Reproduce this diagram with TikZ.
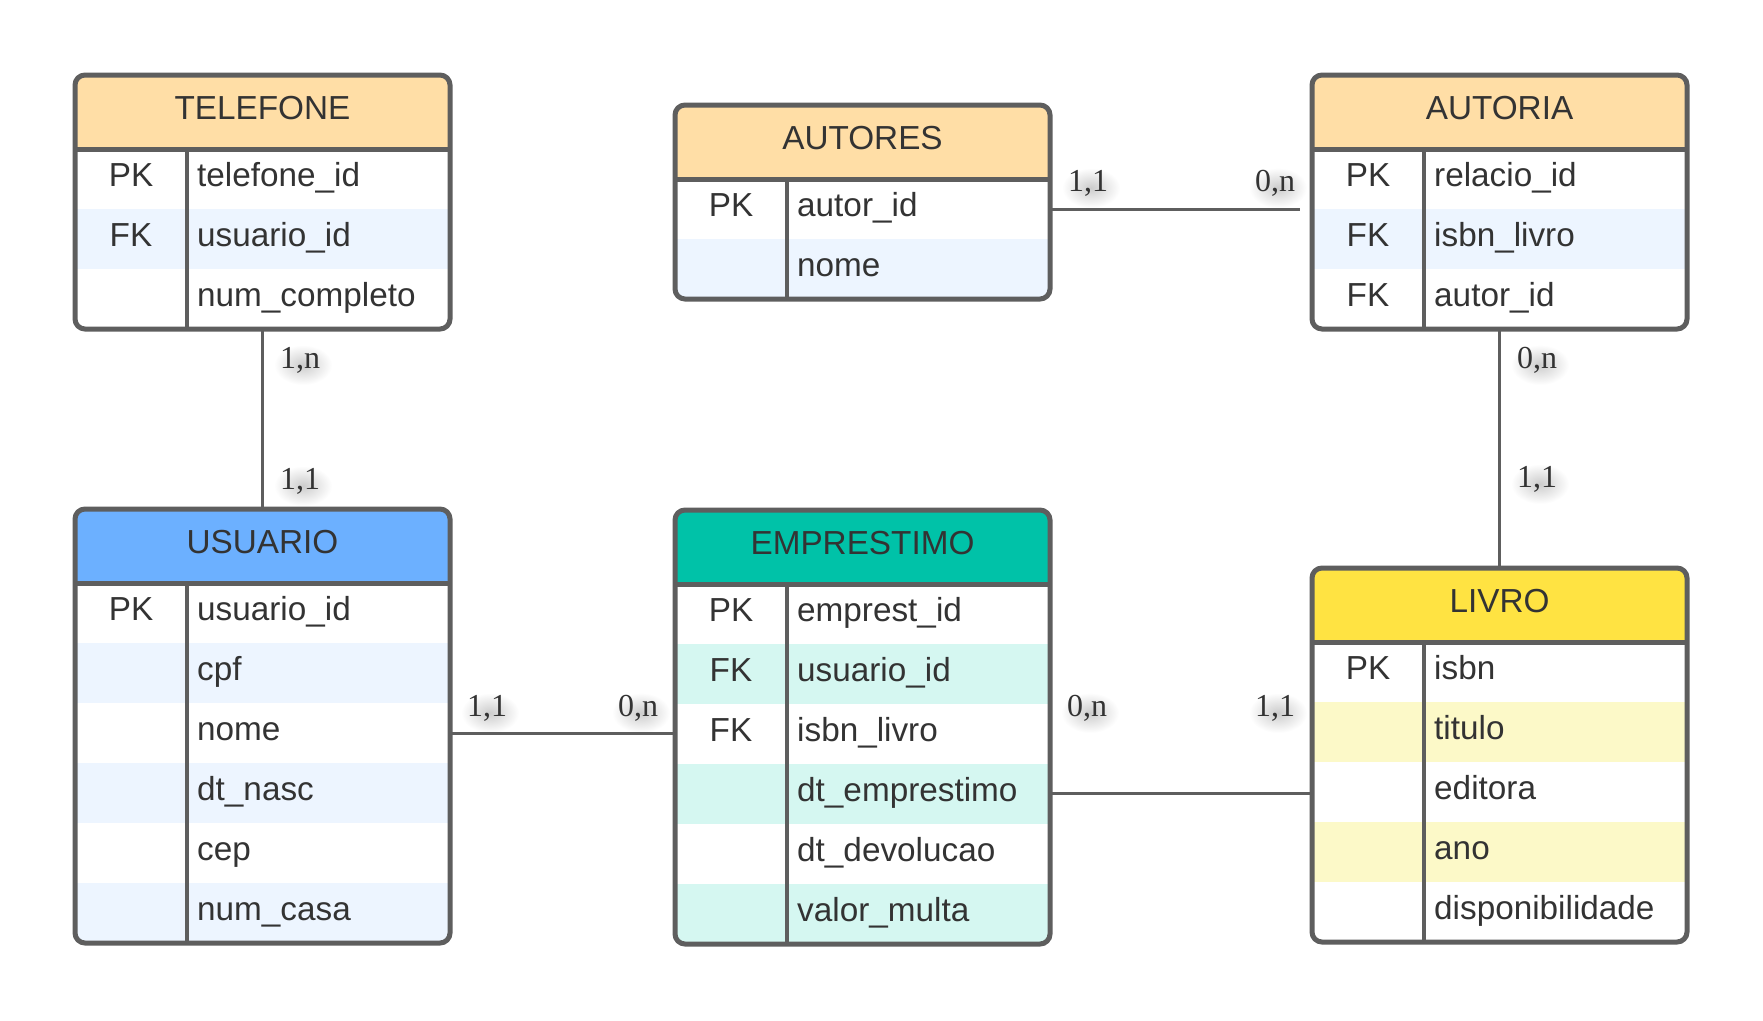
\documentclass[tikz,border=0pt]{standalone}
\usepackage{fontspec}
\setmainfont{Liberation Sans}
\newfontfamily\cardserif{Liberation Serif}
\usetikzlibrary{calc}

\definecolor{bordc}{HTML}{5E5E5E}
\definecolor{txtc}{HTML}{333333}
\definecolor{hdrorange}{HTML}{FFDEA6}
\definecolor{hdrblue}{HTML}{6CB0FF}
\definecolor{hdrteal}{HTML}{00C2A8}
\definecolor{hdryellow}{HTML}{FFE342}
\definecolor{rowblue}{HTML}{EDF5FF}
\definecolor{rowteal}{HTML}{D5F7F1}
\definecolor{rowyellow}{HTML}{FCF9C8}

\newcommand{\rowfont}{\fontsize{33.3}{40}\selectfont}
\newcommand{\cardfont}{\cardserif\fontsize{32}{38}\selectfont}

\tikzset{
  tblbox/.style={draw=bordc, line width=5pt, rounded corners=10pt, anchor=north west,
    minimum width=375pt, inner sep=0pt, outer sep=0pt},
  seprule/.style={draw=bordc, line width=5pt},
  colrule/.style={draw=bordc, line width=4.5pt},
  hdrtxt/.style={font=\rowfont, text=txtc, anchor=base, inner sep=0pt},
  keytxt/.style={font=\rowfont, text=txtc, anchor=base, inner sep=0pt},
  fldtxt/.style={font=\rowfont, text=txtc, anchor=base west, inner sep=0pt},
  conn/.style={draw=bordc, line width=3pt},
  card/.style={font=\cardfont, text=txtc, anchor=base, inner xsep=9pt, inner ysep=7pt,
    preaction={shade, inner color=black!20, outer color=white,
      transform canvas={xshift=3pt, yshift=-5pt}}},
}

% #1 name, #2 x, #3 y, #4 rows, #5 header colour, #6 row colour, #7 shaded rows, #8 title
\newcommand{\ertable}[8]{%
  \begin{scope}
    \clip[rounded corners=10pt] (#2,#3) rectangle ++(375,{74+60*#4});
    \fill[#5] (#2,#3) rectangle ++(375,74);
    \foreach \rw in {#7}{\fill[#6] (#2,{#3+74+60*(\rw-1)}) rectangle ++(375,60);}
  \end{scope}
  \draw[seprule] (#2,{#3+74}) -- ++(375,0);
  \draw[colrule] ({#2+112},{#3+74}) -- ++(0,{60*#4});
  \node[tblbox, minimum height={(74+60*#4)*1pt}] (#1) at (#2,#3) {};
  \node[hdrtxt] (#1-title) at ({#2+187.5},{#3+44}) {#8};
}
% #1 table, #2 x, #3 y, #4 row, #5 key, #6 field
\newcommand{\errow}[6]{%
  \if\relax\detokenize{#5}\relax\else
    \node[keytxt] (#1-k#4) at ({#2+56},{#3+74+60*(#4-1)+37}) {#5};
  \fi
  \node[fldtxt] (#1-f#4) at ({#2+122},{#3+74+60*(#4-1)+37}) {#6};
}

\begin{document}
\begin{tikzpicture}[x=1pt,y=-1pt]
\fill[white] (0,0) rectangle (1763,1020);
\useasboundingbox (0,0) rectangle (1763,1020);

% cardinalities (drawn first so that lines and boxes lie over their soft shadows)
\node[card] (c-tel) at (300,368) {1,n};
\node[card] (c-usu-top) at (300,489) {1,1};
\node[card] (c-aut1) at (1088,191) {1,1};
\node[card] (c-aut2) at (1275,191) {0,n};
\node[card] (c-autoria) at (1537,368) {0,n};
\node[card] (c-livro-top) at (1537,487) {1,1};
\node[card] (c-usu-r) at (487,716) {1,1};
\node[card] (c-emp-l) at (638,716) {0,n};
\node[card] (c-emp-r) at (1087,716) {0,n};
\node[card] (c-livro-l) at (1275,716) {1,1};

% TELEFONE
\ertable{telefone}{75}{75}{3}{hdrorange}{rowblue}{2}{TELEFONE}
\errow{telefone}{75}{75}{1}{PK}{telefone\_id}
\errow{telefone}{75}{75}{2}{FK}{usuario\_id}
\errow{telefone}{75}{75}{3}{}{num\_completo}

% AUTORES
\ertable{autores}{675}{105}{2}{hdrorange}{rowblue}{2}{AUTORES}
\errow{autores}{675}{105}{1}{PK}{autor\_id}
\errow{autores}{675}{105}{2}{}{nome}

% AUTORIA
\ertable{autoria}{1312}{75}{3}{hdrorange}{rowblue}{2}{AUTORIA}
\errow{autoria}{1312}{75}{1}{PK}{relacio\_id}
\errow{autoria}{1312}{75}{2}{FK}{isbn\_livro}
\errow{autoria}{1312}{75}{3}{FK}{autor\_id}

% USUARIO
\ertable{usuario}{75}{509}{6}{hdrblue}{rowblue}{2,4,6}{USUARIO}
\errow{usuario}{75}{509}{1}{PK}{usuario\_id}
\errow{usuario}{75}{509}{2}{}{cpf}
\errow{usuario}{75}{509}{3}{}{nome}
\errow{usuario}{75}{509}{4}{}{dt\_nasc}
\errow{usuario}{75}{509}{5}{}{cep}
\errow{usuario}{75}{509}{6}{}{num\_casa}

% EMPRESTIMO
\ertable{emprestimo}{675}{510}{6}{hdrteal}{rowteal}{2,4,6}{EMPRESTIMO}
\errow{emprestimo}{675}{510}{1}{PK}{emprest\_id}
\errow{emprestimo}{675}{510}{2}{FK}{usuario\_id}
\errow{emprestimo}{675}{510}{3}{FK}{isbn\_livro}
\errow{emprestimo}{675}{510}{4}{}{dt\_emprestimo}
\errow{emprestimo}{675}{510}{5}{}{dt\_devolucao}
\errow{emprestimo}{675}{510}{6}{}{valor\_multa}

% LIVRO
\ertable{livro}{1312}{568}{5}{hdryellow}{rowyellow}{2,4}{LIVRO}
\errow{livro}{1312}{568}{1}{PK}{isbn}
\errow{livro}{1312}{568}{2}{}{titulo}
\errow{livro}{1312}{568}{3}{}{editora}
\errow{livro}{1312}{568}{4}{}{ano}
\errow{livro}{1312}{568}{5}{}{disponibilidade}

% connectors
\draw[conn] (telefone.south) -- (usuario.north);
\coordinate (autores-out) at ($(autores.north east)+(0,104)$);
\draw[conn, shorten >=12pt] (autores-out) -- (autoria.west |- autores-out);
\draw[conn] (autoria.south) -- (livro.north);
\coordinate (usuario-out) at ($(usuario.north east)+(0,224)$);
\draw[conn] (usuario-out) -- (emprestimo.west |- usuario-out);
\coordinate (emprestimo-out) at ($(emprestimo.north east)+(0,283)$);
\draw[conn] (emprestimo-out) -- (livro.west |- emprestimo-out);
\end{tikzpicture}
\end{document}
